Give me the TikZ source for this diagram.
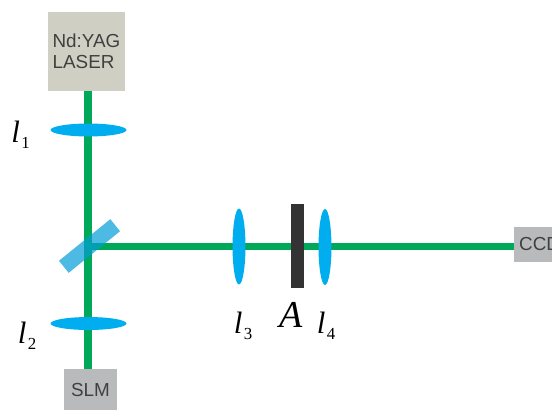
\documentclass[tikz,border=0pt]{standalone}
\usepackage{fontspec}
\setmainfont{Liberation Serif}
\setsansfont{Liberation Sans}
\usetikzlibrary{shapes.geometric}
\definecolor{beamgreen}{RGB}{0,168,89}
\definecolor{lensblue}{RGB}{0,174,239}
\definecolor{laserbox}{RGB}{208,207,195}
\definecolor{devicegray}{RGB}{185,186,187}
\newcommand{\lenslab}[1]{\fontsize{22}{22}\selectfont\textit{l}\kern1pt\raisebox{-4.5pt}{\fontsize{12}{12}\selectfont #1}}
\tikzset{
  beam/.style={draw=beamgreen,line width=5.4pt},
  hlens/.style={ellipse,fill=lensblue,inner sep=0pt,minimum width=54pt,minimum height=9.2pt},
  vlens/.style={ellipse,fill=lensblue,inner sep=0pt,minimum width=9.2pt,minimum height=54pt},
  device/.style={inner sep=0pt,font=\sffamily\fontsize{13.4}{15}\selectfont,text=black!75},
  lab/.style={inner sep=0pt,anchor=base west}
}
\begin{document}
\begin{tikzpicture}[x=0.025cm,y=-0.025cm]
\useasboundingbox (0,0) rectangle (552,409);
% boxes at the ends of the beam
\node[device,fill=laserbox,minimum width=54.7pt,minimum height=56.2pt,align=left] (laser) at (86.5,51.5) {Nd:YAG\\LASER};
\node[device,fill=devicegray,minimum width=37.7pt,minimum height=30pt] (slm) at (90.5,390) {\raisebox{-1.5pt}{SLM}};
\node[device,fill=devicegray,minimum width=50pt,minimum height=25pt,anchor=west,text width=43pt,align=left] (ccd) at (514,244.5) {\raisebox{-1.5pt}{CCD}};
\coordinate (split) at (88,246.5);
% beams
\draw[beam] (laser.south -| split)--(slm.north -| split);
\draw[beam] (split)--(split -| ccd.west);
% lenses
\node[hlens] (l1) at (88.5,130) {};
\node[hlens] (l2) at (88.5,323.5) {};
\node[vlens] (l3) at (239,246.5) {};
\node[vlens] (l4) at (325,247) {};
% beam splitter and aperture
\node[rectangle,fill=lensblue!90!black,opacity=0.7,rotate=39,inner sep=0pt,minimum width=47pt,minimum height=11pt] (bs) at (89.5,246) {};
\node[rectangle,fill=black!80,inner sep=0pt,minimum width=9.3pt,minimum height=59.7pt] (A) at (297.5,246) {};
% labels
\node[lab] (t1) at (11,142) {\lenslab{1}};
\node[lab] (t2) at (17.5,343) {\lenslab{2}};
\node[lab] (t3) at (233.5,333) {\lenslab{3}};
\node[lab] (t4) at (316.5,333) {\lenslab{4}};
\node[lab,font=\fontsize{27}{27}\selectfont\itshape] (tA) at (279.5,327) {A};
\end{tikzpicture}
\end{document}
